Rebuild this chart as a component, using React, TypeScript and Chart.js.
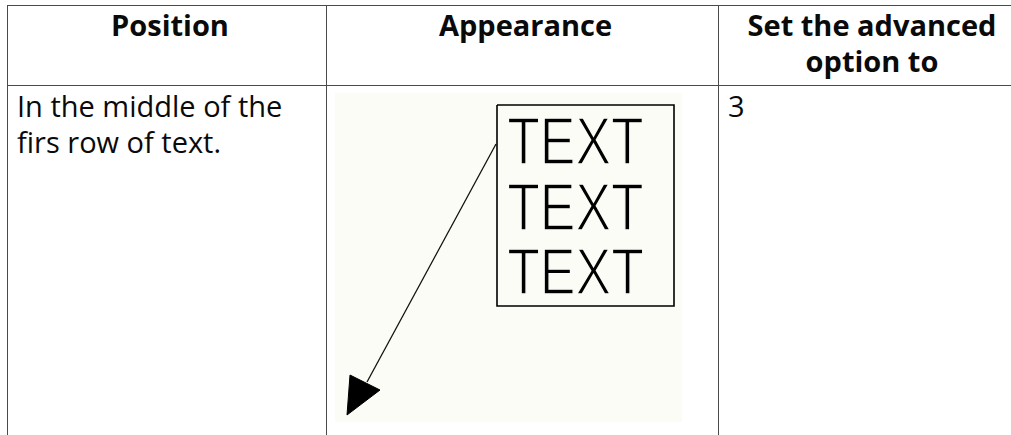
import React, { useEffect, useRef } from "react";
import { Chart, registerables } from "chart.js";

Chart.register(...registerables);

// ---- table content ----
const headerLines: string[][] = [["Position"], ["Appearance"], ["Set the advanced", "option to"]];
const positionLines = ["In the middle of the", "firs row of text."];
const optionLines = ["3"];

// ---- appearance drawing (image units, origin top-left) ----
const imageWidth = 347;
const imageHeight = 329;
const boxXs = [162, 339, 339, 162, 162];
const boxYs = [12, 12, 213, 213, 12];
const leaderXs = [161, 32];
const leaderYs = [51, 289];
const arrowXs = [15, 45, 12, 15];
const arrowYs = [282, 297, 322, 282];
const labelTexts = ["TEXT", "TEXT", "TEXT"];
const labelCapTops = [23, 89, 154];
const labelBaselines = [71, 137, 201];
const labelLeft = [173, 173, 173];
const labelRight = [308, 308, 308];

const imageBg = "#fcfcf7";

const zip = (xs: number[], ys: number[]) => xs.map((x, i) => ({ x, y: ys[i] }));

const textPlugin = {
  id: "boxText",
  afterDatasetsDraw(chart: any) {
    const { ctx, scales } = chart;
    const xs = scales.x;
    const ys = scales.y;
    labelTexts.forEach((t, i) => {
      const left = xs.getPixelForValue(labelLeft[i]);
      const right = xs.getPixelForValue(labelRight[i]);
      const base = ys.getPixelForValue(labelBaselines[i]);
      const top = ys.getPixelForValue(labelCapTops[i]);
      const cap = base - top;
      const size = cap / 0.716;
      ctx.save();
      ctx.font = `${size}px "Liberation Sans", Arial, sans-serif`;
      ctx.textBaseline = "alphabetic";
      ctx.textAlign = "left";
      const m = ctx.measureText(t);
      const ink = m.actualBoundingBoxRight + m.actualBoundingBoxLeft;
      const sx = (right - left) / ink;
      ctx.translate(left, base);
      ctx.scale(sx, 1);
      ctx.fillStyle = "#000";
      ctx.fillText(t, m.actualBoundingBoxLeft, 0);
      // thin the glyphs a little, like the light original lettering
      ctx.strokeStyle = imageBg;
      ctx.lineWidth = 1.6;
      ctx.lineJoin = "miter";
      ctx.strokeText(t, m.actualBoundingBoxLeft, 0);
      ctx.restore();
    });
  },
};

function Appearance() {
  const ref = useRef<HTMLCanvasElement | null>(null);
  useEffect(() => {
    if (!ref.current) return;
    const chart = new Chart(ref.current, {
      type: "scatter",
      data: {
        datasets: [
          {
            data: zip(boxXs, boxYs),
            showLine: true,
            borderColor: "#000",
            borderWidth: 1.6,
            pointRadius: 0,
            fill: false,
            tension: 0,
          },
          {
            data: zip(leaderXs, leaderYs),
            showLine: true,
            borderColor: "#111",
            borderWidth: 1.3,
            pointRadius: 0,
            fill: false,
            tension: 0,
          },
          {
            data: zip(arrowXs, arrowYs),
            showLine: true,
            borderColor: "#000",
            backgroundColor: "#000",
            borderWidth: 1,
            pointRadius: 0,
            fill: "shape",
            tension: 0,
          },
        ],
      },
      options: {
        animation: false,
        responsive: false,
        maintainAspectRatio: false,
        devicePixelRatio: 1,
        events: [],
        layout: { padding: 0 },
        plugins: { legend: { display: false }, tooltip: { enabled: false } },
        scales: {
          x: { type: "linear", min: 0, max: imageWidth, display: false },
          y: { type: "linear", min: 0, max: imageHeight, reverse: true, display: false },
        },
      },
      plugins: [textPlugin],
    });
    return () => chart.destroy();
  }, []);
  return (
    <canvas
      ref={ref}
      width={imageWidth}
      height={imageHeight}
      style={{ display: "block", width: imageWidth, height: imageHeight, background: imageBg }}
    />
  );
}

const border = "1px solid #4a4a4a";

const cellBase: React.CSSProperties = {
  position: "absolute",
  boxSizing: "border-box",
  borderLeft: border,
  borderTop: border,
  fontFamily: '"Open Sans", "Noto Sans", sans-serif',
  fontSize: 29,
  lineHeight: "36px",
  color: "#0a0a0a",
  padding: "1px 3px 0 9px",
  whiteSpace: "nowrap",
};

const colLefts = [7, 326, 718];
const colWidths = [319, 392, 301];

export default function App() {
  return (
    <div
      style={{
        position: "fixed",
        left: 0,
        top: 0,
        width: 1011,
        height: 435,
        overflow: "hidden",
        background: "#fff",
      }}
    >
      {headerLines.map((lines, i) => (
        <div
          key={"h" + i}
          style={{
            ...cellBase,
            left: colLefts[i],
            top: 5,
            width: colWidths[i],
            height: 80,
            fontWeight: 700,
            textAlign: "center",
          }}
        >
          {lines.map((l, j) => (
            <div key={j}>{l}</div>
          ))}
        </div>
      ))}
      <div style={{ ...cellBase, left: colLefts[0], top: 85, width: colWidths[0], height: 360, paddingTop: 1.5 }}>
        {positionLines.map((l, j) => (
          <div key={j}>{l}</div>
        ))}
      </div>
      <div style={{ ...cellBase, left: colLefts[1], top: 85, width: colWidths[1], height: 360, padding: "7px 0 0 8px" }}>
        <Appearance />
      </div>
      <div style={{ ...cellBase, left: colLefts[2], top: 85, width: colWidths[2], height: 360, paddingTop: 1.5 }}>
        {optionLines.map((l, j) => (
          <div key={j}>{l}</div>
        ))}
      </div>
    </div>
  );
}
